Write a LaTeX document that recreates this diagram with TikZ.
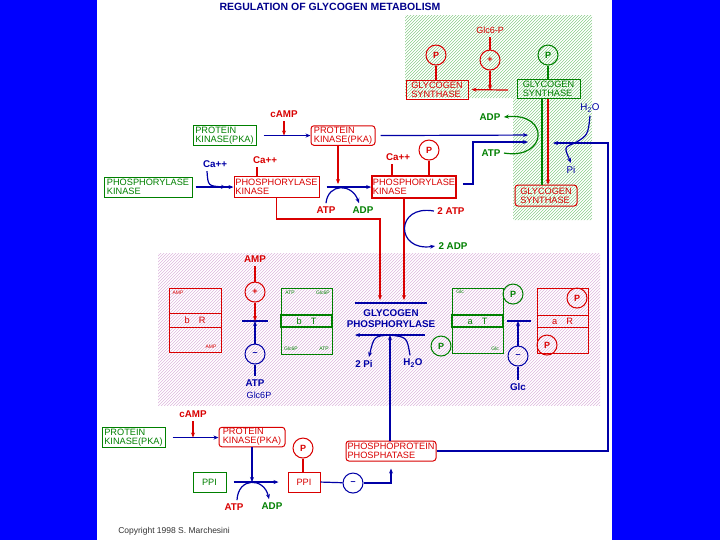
\documentclass[tikz,border=0pt]{standalone}
\usepackage{fontspec}
\setmainfont{Liberation Sans}
\usetikzlibrary{arrows.meta, patterns}

\begin{document}
\begin{tikzpicture}[
  x=1pt, y=-1pt,
  >={Stealth[length=5pt,width=4pt]},
  every node/.style={font=\fontsize{9.2}{9.2}\selectfont},
  rbox/.style={draw=red!85!black, line width=1pt, text=red!85!black, align=left, inner sep=1pt},
  gbox/.style={draw=green!50!black, line width=1pt, text=green!50!black, align=left, inner sep=1pt},
  lbl/.style={font=\bfseries\fontsize{9.8}{10}\selectfont},
  smalltag/.style={font=\fontsize{5}{5}\selectfont},
  pc/.style={circle, draw, line width=1pt, minimum size=20pt, inner sep=0pt, font=\bfseries\fontsize{9}{9}\selectfont},
  rl/.style={red!85!black, line width=1.2pt},
  bl/.style={blue!65!black, line width=1.2pt},
  gl/.style={green!50!black, line width=1.2pt}
]
% Page: blue margins, white sheet, hatched areas
\fill[blue] (0,0) rectangle (720,540);
\fill[white] (97,0) rectangle (612,540);
\fill[pattern=north east lines, pattern color={rgb,255:red,110;green,195;blue,110}] (405,15) -- (592,15) -- (592,220) -- (513,220) -- (513,98) -- (405,98) -- cycle;
\fill[pattern=north east lines, pattern color={rgb,255:red,215;green,165;blue,215}] (158,253) rectangle (600,405);

\node[font=\bfseries\fontsize{10.5}{11}\selectfont, blue!55!black] (title) at (330,7) {REGULATION OF GLYCOGEN METABOLISM};

% Glycogen synthase (top right)
\node[rbox, minimum width=62pt, minimum height=19pt] (gsb) at (437,89.5) {GLYCOGEN\\SYNTHASE};
\node[gbox, minimum width=63pt, minimum height=19pt] (gsa) at (548.5,89) {GLYCOGEN\\SYNTHASE};
\node[pc, red!85!black] (pgsb) at (436,55) {P};
\node[pc, green!50!black] (pgsa) at (548,55) {P};
\draw[rl] (pgsb) -- (pgsb |- gsb.north);
\draw[gl] (pgsa) -- (pgsa |- gsa.north);
\node[lbl, red!85!black, font=\fontsize{9}{9}\selectfont] (g6p) at (490,30) {Glc6-P};
\node[pc, red!85!black] (plus1) at (490,60) {+};
\coordinate (gsbar) at (508,90);
\draw[rl] (g6p) -- (plus1);
\draw[rl,->] (plus1) -- (plus1 |- gsbar);
\draw[rl,->, shorten >=3pt] (gsbar) -- (gsb.east);
\node[rbox, rounded corners=3pt, minimum width=62pt, minimum height=21pt] (gsr) at (546,195.5) {GLYCOGEN\\SYNTHASE};
\draw[gl] ([xshift=-6.5pt]gsa.south) -- ([xshift=-4pt]gsr.north);
\draw[rl, line width=1.8pt, ->] ([xshift=-0.5pt]gsa.south) -- ([xshift=2pt]gsr.north);
\node[lbl, green!50!black] (adp1) at (490,117) {ADP};
\node[lbl, green!50!black] (atp1) at (491,153) {ATP};
\draw[gl,->] (atp1.east) .. controls (548,160) and (550,112) .. (adp1.east);
\coordinate (gsin1) at (528,135);
\coordinate (gsturn) at (473,142);
\coordinate (gsin2) at (528,142);
\coordinate (gsdeph) at (575,143);
\coordinate (gsin3) at (553,143);
\coordinate (rcorner) at (608,143);
\node[blue!65!black, font=\fontsize{9.8}{10}\selectfont] (h2o1) at (590,108) {H\textsubscript{2}O};
\node[blue!65!black, font=\fontsize{9.8}{10}\selectfont] (pi1) at (571,170) {Pi};
\draw[bl] (h2o1.south) .. controls (588,135) .. (gsdeph);
\draw[bl,->] (gsdeph) .. controls (564,147) .. (pi1.north);

% Protein kinase and phosphorylase kinase (upper left)
\node[lbl, red!85!black] (camp1) at (284,114) {cAMP};
\node[gbox, minimum width=63pt, minimum height=17pt] (pka0) at (224.5,135.5) {PROTEIN\\KINASE(PKA)};
\node[rbox, rounded corners=3pt, minimum width=64pt, minimum height=19pt] (pka1) at (343,135.5) {PROTEIN\\KINASE(PKA)};
\draw[bl,->] ([xshift=7pt]pka0.east) -- (pka1.west);
\draw[rl,->] (camp1.south) -- (camp1.south |- pka1.west);
\draw[bl,->] ([xshift=5pt]pka1.east) -- (gsin1);

\node[lbl, blue!65!black] (ca1) at (215,164) {Ca++};
\node[gbox, minimum width=88pt, minimum height=20pt] (phk0) at (148,187) {PHOSPHORYLASE\\KINASE};
\node[rbox, minimum width=85pt, minimum height=21pt] (phk1) at (276.5,187) {PHOSPHORYLASE\\KINASE};
\node[lbl, red!85!black] (ca2) at (265,160) {Ca++};
\draw[rl] ([xshift=-8pt]ca2.south) -- ([xshift=-8pt]ca2.south |- phk1.north);
\coordinate (caj) at (226,187);
\draw[bl,->] ([xshift=3pt]phk0.east) -- (phk1.west);
\draw[bl,->] ([xshift=-8pt]ca1.south) .. controls (208,186) .. (caj);

\node[rbox, line width=1.6pt, minimum width=84pt, minimum height=22pt] (phk2) at (414,187) {PHOSPHORYLASE\\KINASE};
\node[lbl, red!85!black] (ca3) at (398,157) {Ca++};
\node[pc, red!85!black] (pphk) at (429,150) {P};
\draw[rl] ([xshift=-6pt]ca3.south) -- ([xshift=-6pt]ca3.south |- phk2.north);
\draw[rl] (pphk) -- (pphk |- phk2.north);
\coordinate (phkj) at (338,187);
\draw[bl,->] ([xshift=7pt]phk1.east) -- (phk2.west);
\draw[rl,->] ([xshift=-5pt]pka1.south) -- ([yshift=3pt]phkj);
\node[lbl, red!85!black] (atp2) at (326,210) {ATP};
\node[lbl, green!50!black] (adp2) at (363,210) {ADP};
\draw[bl,->] (atp2.north) .. controls (328,183) and (352,183) .. ([xshift=-4pt]adp2.north);
\draw[bl,->] ([yshift=3pt,xshift=6pt]phk2.east) -| (gsturn) -- (gsin2);

% Kinases act on glycogen phosphorylase
\coordinate (gptop1) at (380,300);
\coordinate (gptop2) at (404,300);
\draw[rl,->] (phk1.south) -- ++(0,21) -| (gptop1);
\draw[rl, line width=1.8pt, ->] (phk2.south -| gptop2) -- (gptop2);
\node[lbl, red!85!black] (atp3) at (451,211) {2 ATP};
\node[lbl, green!50!black] (adp3) at (453,246) {2 ADP};
\draw[bl,->] (atp3.west) .. controls (395,204) and (395,252) .. (adp3.west);

% Allosteric states of phosphorylase (hatched band)
\node[lbl, red!85!black] (amp) at (255,259) {AMP};
\node[pc, red!85!black] (plus2) at (255,292) {+};
\coordinate (bar2l) at (242,321);
\coordinate (bar2r) at (268,321);
\draw[bl, line width=2pt] (bar2l) -- (bar2r);
\node[pc, blue!65!black] (minus1) at (255,354) {--};
\node[lbl, blue!65!black] (atp4) at (255,383) {ATP};
\node[blue!65!black, font=\fontsize{9}{9}\selectfont] (g6p2) at (259,395) {Glc6P};
\draw[rl] (amp) -- (plus2);
\draw[rl,->] (plus2) -- (plus2 |- bar2l);
\draw[bl,->] (minus1) -- (minus1 |- bar2l);
\draw[bl, line width=1.6pt] (atp4) -- (minus1);

\node[rbox, minimum width=52pt, minimum height=64pt] (bR) at (195,320) {};
\node[rbox, minimum width=52pt, minimum height=14pt, align=center] (bRm) at (195,320) {b\quad R};
\node[smalltag, red!85!black] (bRt) at (178,293) {AMP};
\node[smalltag, red!85!black] (bRb) at (211,347) {AMP};

\node[gbox, minimum width=51pt, minimum height=66pt] (bT) at (306.5,321) {};
\node[gbox, line width=1.6pt, minimum width=51pt, minimum height=12pt, align=center] (bTm) at (306.5,321) {b\quad T};
\node[smalltag, green!50!black] (bTtl) at (290,293) {ATP};
\node[smalltag, green!50!black] (bTtr) at (323,293) {Glc6P};
\node[smalltag, green!50!black] (bTbl) at (291,349) {Glc6P};
\node[smalltag, green!50!black] (bTbr) at (324,349) {ATP};

\node[font=\bfseries\fontsize{9.8}{11}\selectfont, blue!65!black, align=center] (gp) at (391,319) {GLYCOGEN\\PHOSPHORYLASE};
\coordinate (gpa) at (355,303);
\coordinate (gpb) at (427,303);
\coordinate (gpc) at (355,335);
\coordinate (gpd) at (425,335);
\coordinate (gpj) at (390,335);
\draw[bl, line width=1.6pt] (gpa) -- (gpb);
\draw[bl, line width=1.6pt, <-] (gpc) -- (gpd);
\node[lbl, blue!65!black] (pi2) at (364,364) {2 Pi};
\node[lbl, blue!65!black] (h2o2) at (413,363) {H\textsubscript{2}O};
\draw[bl,->] (gpj) .. controls (374,336) .. ([xshift=5pt]pi2.north);
\draw[bl] ([xshift=-3pt]h2o2.north) .. controls (407,337) .. (gpj);

\node[gbox, minimum width=51pt, minimum height=65pt] (aT) at (477.5,320.5) {};
\node[gbox, line width=1.6pt, minimum width=51pt, minimum height=12pt, align=center] (aTm) at (477.5,321) {a\quad T};
\node[smalltag, green!50!black] (aTt) at (460,292) {Glc};
\node[smalltag, green!50!black] (aTb) at (495,349) {Glc};
\node[pc, green!50!black] (paT1) at (513,294) {P};
\node[pc, green!50!black] (paT2) at (441,346) {P};
\coordinate (bar3l) at (507,321);
\coordinate (bar3r) at (531,321);
\draw[bl, line width=2pt] (bar3l) -- (bar3r);
\node[pc, blue!65!black] (minus2) at (518,356) {--};
\node[lbl, blue!65!black] (glc) at (518,387) {Glc};
\draw[bl, line width=1.6pt] (glc) -- (minus2);
\draw[bl,->] (minus2) -- (minus2 |- bar3l);

\node[rbox, minimum width=51pt, minimum height=65pt] (aR) at (562.5,320.5) {};
\node[rbox, minimum width=51pt, minimum height=12pt, align=center] (aRm) at (562.5,321) {a\quad R};
\node[pc, red!85!black] (paR1) at (577,298) {P};
\node[pc, red!85!black] (paR2) at (547,345) {P};

% Insulin-side branch: PKA, PPI and phosphatase (bottom)
\node[lbl, red!85!black] (camp2) at (193,414) {cAMP};
\node[gbox, minimum width=63pt, minimum height=19pt] (pka2) at (133.5,437.5) {PROTEIN\\KINASE(PKA)};
\node[rbox, rounded corners=3pt, minimum width=66pt, minimum height=18pt] (pka3) at (252,437) {PROTEIN\\KINASE(PKA)};
\draw[bl,->] ([xshift=7pt]pka2.east) -- (pka3.west |- pka2.east);
\draw[rl,->] (camp2.south) -- (camp2.south |- pka2.east);
\node[gbox, minimum width=33pt, minimum height=20pt, align=center] (ppi0) at (209.5,482) {PPI};
\node[rbox, minimum width=32pt, minimum height=20pt, align=center] (ppi1) at (304,482) {PPI};
\draw[bl,->, shorten >=9pt] ([xshift=7pt]ppi0.east) -- (ppi1.west);
\draw[bl,->] (pka3.south) -- (pka3.south |- ppi0.east);
\node[lbl, red!85!black] (atp5) at (234,507) {ATP};
\node[lbl, green!50!black] (adp5) at (272,506) {ADP};
\draw[bl,->] ([xshift=3pt]atp5.north) .. controls (238,477) and (264,477) .. ([xshift=-3pt]adp5.north);
\node[pc, red!85!black] (pppi) at (303,448) {P};
\draw[rl] (pppi) -- (pppi |- ppi1.north);
\node[pc, blue!65!black] (minus3) at (353,483) {--};
\node[rbox, rounded corners=3pt, minimum width=90pt, minimum height=20pt] (ppase) at (391,451) {PHOSPHOPROTEIN\\PHOSPHATASE};
\draw[bl] (ppi1.east) -- (minus3);
\draw[bl,->, shorten >=7pt] (minus3.east) -| (ppase.south);
\draw[bl,->] (ppase.north -| gpj) -- (gpj);
\draw[bl,->] (ppase.east) -| (rcorner) -- (gsin3);

\node[font=\fontsize{8.5}{9}\selectfont, black!80] (copy) at (174,531) {Copyright 1998 S. Marchesini};
\end{tikzpicture}
\end{document}
